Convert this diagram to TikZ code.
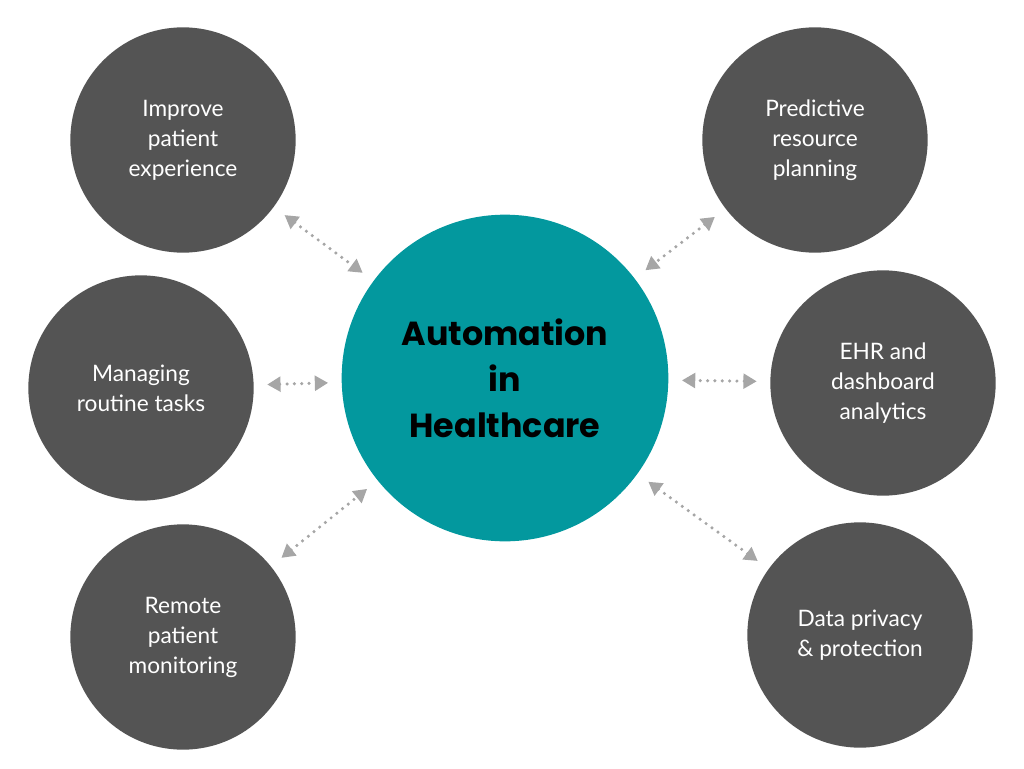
\documentclass[tikz,border=0pt]{standalone}
\usepackage{fontspec}
\setmainfont{Lato}
\newfontfamily\titlefont{Poppins}
\usetikzlibrary{arrows.meta}
\definecolor{darkgrey}{HTML}{545454}
\definecolor{tealc}{HTML}{03989E}
\definecolor{arrowgrey}{HTML}{A6A6A6}
\begin{document}
\begin{tikzpicture}[x=0.75pt,y=-0.75pt,
    outernode/.style={circle, fill=darkgrey, minimum size=169pt, inner sep=0pt, text=white, align=center, font=\fontsize{17}{22.5}\selectfont},
    centernode/.style={circle, fill=tealc, minimum size=245pt, inner sep=0pt, text=black, align=center, font=\titlefont\bfseries\fontsize{25}{34.5}\selectfont},
    link/.style={arrowgrey, line width=2.6pt, dash pattern=on 0pt off 5.5pt, line cap=round, {Triangle[length=10pt,width=11pt]}-{Triangle[length=10pt,width=11pt]}, shorten <=10pt, shorten >=10pt}]
    \useasboundingbox (0,0) rectangle (1024,768);
    \node[centernode] (auto) at (505,378) {Automation\\in\\Healthcare};
    \node[outernode] (improve) at (183,140) {Improve\\patient\\experience};
    \node[outernode] (routine) at (141,388) {Managing\\routine tasks};
    \node[outernode] (remote) at (183,637) {Remote\\patient\\monitoring};
    \node[outernode] (predict) at (815,140) {Predictive\\resource\\planning};
    \node[outernode] (ehr) at (883,383) {EHR and\\dashboard\\analytics};
    \node[outernode] (privacy) at (860,635) {Data privacy\\\& protection};

    \draw[link] (improve) -- (auto);
    \draw[link] (routine) -- (auto);
    \draw[link] (remote) -- (auto);
    \draw[link] (predict) -- (auto);
    \draw[link] (ehr) -- (auto);
    \draw[link] (privacy) -- (auto);
\end{tikzpicture}
\end{document}
